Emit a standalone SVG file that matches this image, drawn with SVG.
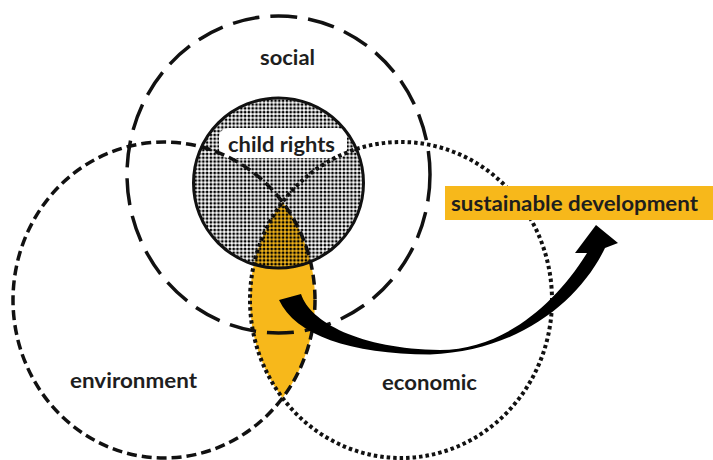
<svg xmlns="http://www.w3.org/2000/svg" width="713" height="460" viewBox="0 0 713 460">
  <style>
    .lbl { font-family: Lato, "Open Sans", "Liberation Sans", sans-serif; font-weight: bold; font-size: 21px; fill: #1e1e1e; }
    .ring { fill: none; stroke: #111; stroke-width: 3.5; }
    .social { stroke-dasharray: 27 11; }
    .env { stroke-dasharray: 10 5; }
    .econ { stroke-dasharray: 3.5 3; stroke-width: 4; }
    .orange { fill: #F7B81B; }
  </style>
  <defs>
    <pattern id="dots" patternUnits="userSpaceOnUse" width="3.8" height="3.8">
      <circle cx="1.9" cy="1.9" r="1.45" fill="#000"/>
    </pattern>
  </defs>
  <rect width="713" height="460" fill="#fff"/>

  <!-- fills -->
  <path id="lens" class="orange" d="M282.5,202.1 A151,158 0 0 1 282.5,397.9 A151,158 0 0 1 282.5,202.1 Z"/>
  <circle cx="278.5" cy="183" r="85" fill="url(#dots)"/>
  <rect x="219" y="128" width="128" height="30" rx="9" fill="#fff"/>

  <g id="social">
    <ellipse class="ring social" cx="278.5" cy="174.5" rx="151.5" ry="158.5"/>
    <text class="lbl" x="287.5" y="65" text-anchor="middle" textLength="55" lengthAdjust="spacingAndGlyphs">social</text>
  </g>
  <g id="environment">
    <ellipse class="ring env" cx="164" cy="300" rx="151" ry="158"/>
    <text class="lbl" x="133.5" y="388" text-anchor="middle" textLength="127" lengthAdjust="spacingAndGlyphs">environment</text>
  </g>
  <g id="economic">
    <ellipse class="ring econ" cx="401" cy="300" rx="151" ry="158"/>
    <text class="lbl" x="429.5" y="390" text-anchor="middle" textLength="95" lengthAdjust="spacingAndGlyphs">economic</text>
  </g>
  <g id="child-rights">
    <circle cx="278.5" cy="183" r="85" fill="none" stroke="#111" stroke-width="3"/>
    <text class="lbl" x="281.5" y="152" text-anchor="middle" textLength="107" lengthAdjust="spacingAndGlyphs">child rights</text>
  </g>

  <g id="connectors">
    <path d="M279,300 L301,294 C310,322 360,349 440,350 C502,350 555,305 587,253 L575,253 L596,225 L618,243 L605,248 C580,300 520,351 430,354.5 C350,354 295,335 279,300 Z" fill="#000"/>
  </g>

  <g id="sustainable-development">
    <rect class="orange" x="445" y="186" width="268" height="34"/>
    <text class="lbl" x="451" y="211" textLength="247" lengthAdjust="spacingAndGlyphs">sustainable development</text>
  </g>
</svg>
